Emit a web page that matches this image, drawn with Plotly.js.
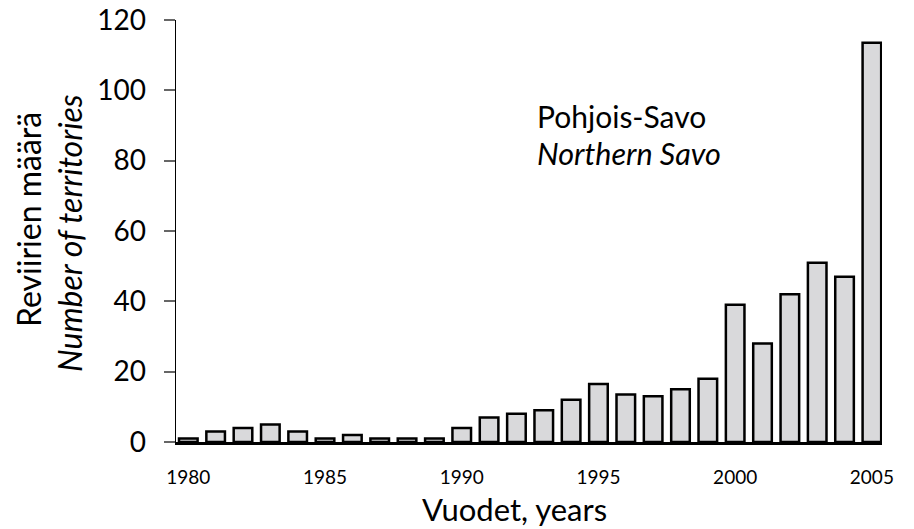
<!DOCTYPE html>
<html>
<head>
<meta charset="utf-8">
<script src="https://cdn.plot.ly/plotly-3.0.1.min.js"></script>
<style>html,body{margin:0;padding:0;background:#fff;}#chart{width:914px;height:529px;}</style>
</head>
<body>
<div id="chart"></div>
<script>
const years = [1980,1981,1982,1983,1984,1985,1986,1987,1988,1989,1990,1991,1992,1993,1994,1995,1996,1997,1998,1999,2000,2001,2002,2003,2004,2005];
const territories = [1,3,4,5,3,1,2,1,1,1,4,7,8,9,12,16.5,13.5,13,15,18,39,28,42,51,47,113.5];
const xTicks = [1980,1985,1990,1995,2000,2005];
const yTicks = [0,20,40,60,80,100,120];
const regionFi = 'Pohjois-Savo';
const regionEn = 'Northern Savo';
const yTitleFi = 'Reviirien määrä';
const yTitleEn = 'Number of territories';
const xTitle = 'Vuodet, years';

const FONT = 'Lato, "Open Sans", sans-serif';

const trace = {
  type: 'bar',
  x: years,
  y: territories,
  marker: {color: '#d9d9db', line: {color: '#000', width: 2.5}},
  hoverinfo: 'x+y'
};

// pixel helpers for text placement relative to plot area (176..882 x, 20..442 y)
const px = v => (v - 176) / 706;
const py = v => (442 - v) / 422;

const layout = {
  width: 914, height: 529,
  margin: {l: 176, r: 32, t: 20, b: 87},
  paper_bgcolor: '#fff', plot_bgcolor: '#fff',
  font: {family: FONT, color: '#000'},
  showlegend: false,
  bargap: 0.32,
  xaxis: {
    range: [1979.55, 2005.37],
    tickvals: xTicks, ticktext: xTicks.map(String),
    ticks: '', showgrid: false, zeroline: false,
    showline: true, linecolor: '#000', linewidth: 3,
    tickfont: {size: 19, family: FONT},
    ticklabelstandoff: 16
  },
  yaxis: {
    range: [0, 120],
    tickvals: yTicks,
    ticks: 'outside', ticklen: 11, tickwidth: 2, tickcolor: '#666',
    showgrid: false, zeroline: false,
    showline: true, linecolor: '#000', linewidth: 1.5,
    tickfont: {size: 28, family: FONT},
    ticklabelstandoff: 12
  },
  annotations: [
    {xref: 'paper', yref: 'paper', x: px(28), y: py(220), xanchor: 'center', yanchor: 'middle', textangle: -90,
     text: yTitleFi, showarrow: false, font: {size: 32, family: FONT}},
    {xref: 'paper', yref: 'paper', x: px(70), y: py(233), xanchor: 'center', yanchor: 'middle', textangle: -90,
     text: '<i>' + yTitleEn + '</i>', showarrow: false, font: {size: 32, family: FONT}},
    {xref: 'paper', yref: 'paper', x: px(536), y: py(116), xanchor: 'left', yanchor: 'middle',
     text: regionFi, showarrow: false, borderpad: 0, font: {size: 30, family: FONT}},
    {xref: 'paper', yref: 'paper', x: px(536), y: py(153), xanchor: 'left', yanchor: 'middle',
     text: '<i>' + regionEn + '</i>', showarrow: false, borderpad: 0, font: {size: 30.5, family: FONT}},
    {xref: 'paper', yref: 'paper', x: px(514), y: py(509), xanchor: 'center', yanchor: 'middle',
     text: xTitle, showarrow: false, borderpad: 0, font: {size: 31, family: FONT}}
  ]
};

Plotly.newPlot('chart', [trace], layout, {displayModeBar: false, staticPlot: true});
</script>
</body>
</html>
